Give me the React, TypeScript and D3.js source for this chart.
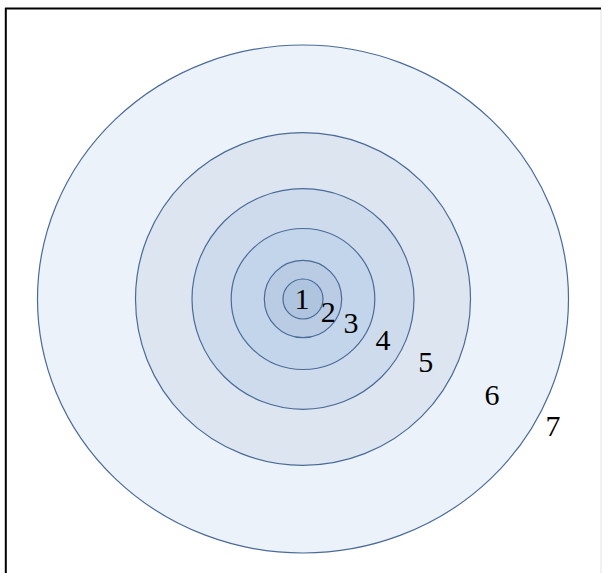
import React from 'react';
import * as d3 from 'd3';

// rings from the inside out
const ringLabels = ['1', '2', '3', '4', '5', '6', '7'];
const ringRadiusX = [20, 38.7, 71.8, 111, 167.5, 265.5];
const ringRadiusY = [20, 38.7, 70.5, 110.3, 166.3, 254];

const fills = ['#afc4df', '#b9cce4', '#c3d5ea', '#cddbec', '#dde6f0', '#ebf2fa'];

const width = 603;
const height = 573;

const App = () => {
  const cx = 303;
  const cy = 299;
  const maxR = d3.max(ringRadiusX) as number;

  // radii are read in pixels already
  const r = d3.scaleLinear().domain([0, maxR]).range([0, maxR]);

  // labels sit in the middle of each ring, along one ray
  const angle = (27 * Math.PI) / 180;
  const avgR = ringRadiusX.map((d, i) => (d + ringRadiusY[i]) / 2);
  const labelR = ringLabels.map((_, i) => {
    if (i === 0) return 0;
    if (i === avgR.length) return avgR[i - 1] + 22;
    return (avgR[i - 1] + avgR[i]) / 2;
  });

  const order = d3.range(ringRadiusX.length).reverse();

  return (
    <svg
      width={width}
      height={height}
      style={{ position: 'absolute', left: 0, top: 0, display: 'block', background: '#fff' }}
    >
      {/* frame */}
      <line x1={601} y1={9} x2={601} y2={height} stroke="#e2e2e2" strokeWidth={1} />
      <line x1={5} y1={8.5} x2={601} y2={8.5} stroke="#000" strokeWidth={2} />
      <line x1={5.8} y1={8} x2={5.8} y2={height} stroke="#000" strokeWidth={2} />

      {order.map((i) => (
        <ellipse
          key={i}
          cx={cx}
          cy={cy}
          rx={r(ringRadiusX[i])}
          ry={r(ringRadiusY[i])}
          fill={fills[i]}
          stroke="#4a6a98"
          strokeWidth={1.2}
        />
      ))}

      {ringLabels.map((t, i) => (
        <text
          key={t}
          x={cx - 1 + r(labelR[i]) * Math.cos(angle)}
          y={cy - 1 + r(labelR[i]) * Math.sin(angle)}
          textAnchor="middle"
          dominantBaseline="central"
          fontFamily="'Times New Roman', 'Liberation Serif', Times, serif"
          fontSize={30}
          fill="#000"
        >
          {t}
        </text>
      ))}
    </svg>
  );
};

export default App;
